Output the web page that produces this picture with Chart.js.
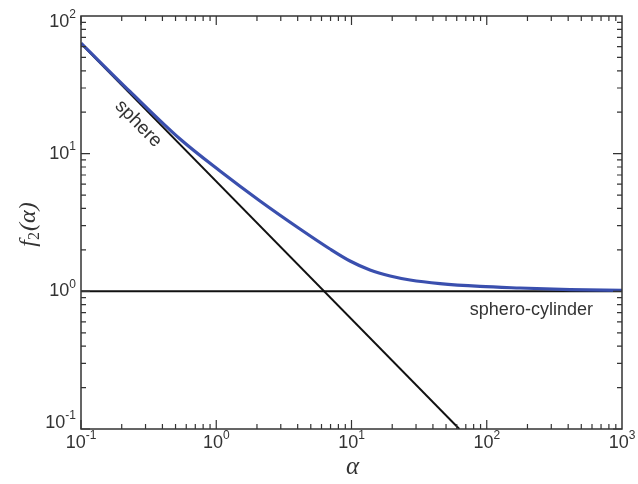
<!DOCTYPE html>
<html>
<head>
<meta charset="utf-8">
<script src="https://cdn.jsdelivr.net/npm/chart.js@4/dist/chart.umd.min.js"></script>
<style>
  body { margin: 0; background: #fff; }
  #wrap { width: 638px; height: 484px; }
</style>
</head>
<body>
<div id="wrap"><canvas id="c" width="638" height="484"></canvas></div>
<script>
// values
const curveAlpha = [0.1, 0.23, 0.54, 1.066, 2.106, 4.16, 6.93, 9.75, 13.7, 19.3, 27.1, 45.1, 89.2, 176, 413, 1000];
const curveF = [63.6, 28.3, 12.77, 7.48, 4.53, 2.835, 2.03, 1.66, 1.428, 1.291, 1.208, 1.137, 1.085, 1.057, 1.03, 1.015];
const sphereAlpha = [0.1, 62.7];
const sphereF = [63, 0.1];
const cylAlpha = [0.1, 1000];
const cylF = [1, 1];
const alphaTicks = [0.1, 1, 10, 100, 1000];
const fTicks = [0.1, 1, 10, 100];

const pts = (xs, ys) => xs.map((x, i) => ({ x: x, y: ys[i] }));

const axisColor = '#333';
const labelFont = '18px "Liberation Sans", Arial, sans-serif';
const expFont = '12px "Liberation Sans", Arial, sans-serif';

function drawPow(ctx, exp, x, y, align) {
    // "10" with raised exponent
    ctx.font = labelFont;
    const w1 = ctx.measureText('10').width;
    ctx.font = expFont;
    const w2 = ctx.measureText(exp).width;
    let left = x;
    if (align === 'right') left = x - w1 - w2;
    if (align === 'center') left = x - (w1 + w2) / 2;
    ctx.textAlign = 'left';
    ctx.textBaseline = 'middle';
    ctx.font = labelFont;
    ctx.fillText('10', left, y);
    ctx.font = expFont;
    ctx.fillText(exp, left + w1, y - 7);
}

const framePlugin = {
    id: 'frame',
    afterDraw(chart) {
        const ctx = chart.ctx;
        const a = chart.chartArea;
        const xs = chart.scales.x, ys = chart.scales.y;
        ctx.save();
        ctx.strokeStyle = axisColor;
        ctx.fillStyle = axisColor;
        ctx.lineWidth = 1.5;
        ctx.strokeRect(a.left, a.top, a.right - a.left, a.bottom - a.top);

        // inward ticks, all four sides
        ctx.lineWidth = 1.2;
        ctx.beginPath();
        alphaTicks.forEach((d, i) => {
            if (i === alphaTicks.length - 1) return;
            for (let m = 1; m <= 9; m++) {
                const px = xs.getPixelForValue(d * m);
                const len = m === 1 ? 9 : 5;
                ctx.moveTo(px, a.bottom); ctx.lineTo(px, a.bottom - len);
                ctx.moveTo(px, a.top); ctx.lineTo(px, a.top + len);
            }
        });
        fTicks.forEach((d, i) => {
            if (i === fTicks.length - 1) return;
            for (let m = 1; m <= 9; m++) {
                const py = ys.getPixelForValue(d * m);
                const len = m === 1 ? 9 : 5;
                ctx.moveTo(a.left, py); ctx.lineTo(a.left + len, py);
                ctx.moveTo(a.right, py); ctx.lineTo(a.right - len, py);
            }
        });
        ctx.stroke();

        // tick labels
        alphaTicks.forEach(v => {
            drawPow(ctx, String(Math.round(Math.log10(v))), xs.getPixelForValue(v), a.bottom + 14, 'center');
        });
        fTicks.forEach((v, i) => {
            let off = 0;
            if (i === 0) off = -6;
            if (i === fTicks.length - 1) off = 6;
            drawPow(ctx, String(Math.round(Math.log10(v))), a.left - 5, ys.getPixelForValue(v) + off, 'right');
        });

        // axis titles
        ctx.font = 'italic 25px "Liberation Serif", "DejaVu Serif", serif';
        ctx.textAlign = 'center';
        ctx.textBaseline = 'middle';
        ctx.fillText('α', (a.left + a.right) / 2 + 1, a.bottom + 38);

        ctx.save();
        ctx.translate(27, (a.top + a.bottom) / 2 + 2);
        ctx.rotate(-Math.PI / 2);
        const f1 = 'italic 24px "Liberation Serif", serif';
        const f2 = '16px "Liberation Serif", serif';
        ctx.font = f1; const wf = ctx.measureText('f').width;
        ctx.font = f2; const w2 = ctx.measureText('2').width;
        ctx.font = f1; const wr = ctx.measureText('(α)').width;
        let x0 = -(wf + w2 + 1 + wr) / 2;
        ctx.textAlign = 'left';
        ctx.textBaseline = 'alphabetic';
        ctx.font = f1; ctx.fillText('f', x0, 8);
        ctx.font = f2; ctx.fillText('2', x0 + wf, 12);
        ctx.font = f1; ctx.fillText('(α)', x0 + wf + w2 + 1, 8);
        ctx.restore();

        // curve labels
        ctx.font = '19px "Liberation Sans", Arial, sans-serif';
        const p0x = xs.getPixelForValue(sphereAlpha[0]), p0y = ys.getPixelForValue(sphereF[0]);
        const p1x = xs.getPixelForValue(sphereAlpha[1]), p1y = ys.getPixelForValue(sphereF[1]);
        const ang = Math.atan2(p1y - p0y, p1x - p0x);
        ctx.save();
        ctx.translate(xs.getPixelForValue(0.265), ys.getPixelForValue(16.5));
        ctx.rotate(ang);
        ctx.textAlign = 'center';
        ctx.textBaseline = 'middle';
        ctx.fillText('sphere', 0, 0);
        ctx.restore();

        ctx.font = '18px "Liberation Sans", Arial, sans-serif';
        ctx.textAlign = 'left';
        ctx.textBaseline = 'alphabetic';
        ctx.fillText('sphero-cylinder', xs.getPixelForValue(75), ys.getPixelForValue(0.67));
        ctx.restore();
    }
};

new Chart(document.getElementById('c').getContext('2d'), {
    type: 'scatter',
    data: {
        datasets: [
            {
                label: 'f2',
                data: pts(curveAlpha, curveF),
                showLine: true,
                borderColor: '#3a4fae',
                borderWidth: 3.2,
                pointRadius: 0,
                cubicInterpolationMode: 'monotone'
            },
            {
                label: 'sphere',
                data: pts(sphereAlpha, sphereF),
                showLine: true,
                borderColor: '#111',
                borderWidth: 2,
                pointRadius: 0
            },
            {
                label: 'sphero-cylinder',
                data: pts(cylAlpha, cylF),
                showLine: true,
                borderColor: '#111',
                borderWidth: 2,
                pointRadius: 0
            }
        ]
    },
    options: {
        responsive: false,
        animation: false,
        layout: { padding: { left: 81, right: 16, top: 16, bottom: 55 } },
        plugins: { legend: { display: false }, tooltip: { enabled: false } },
        scales: {
            x: { type: 'logarithmic', min: 0.1, max: 1000, display: false },
            y: { type: 'logarithmic', min: 0.1, max: 100, display: false }
        }
    },
    plugins: [framePlugin]
});
</script>
</body>
</html>
